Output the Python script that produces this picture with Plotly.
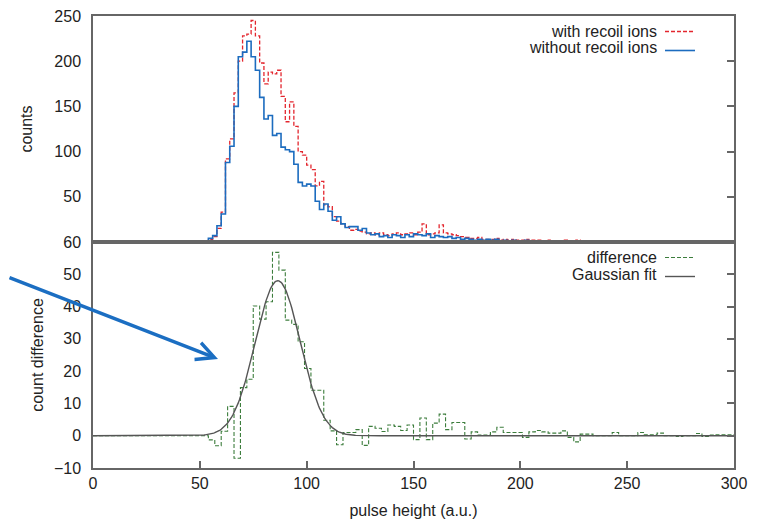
import numpy as np
import plotly.graph_objects as go
from plotly.subplots import make_subplots

# ---------------- data ----------------
# upper panel: histograms, 2-unit bins starting at 50 (zero below 50)
top_bin_start = 50
top_bin_width = 2
counts_with_recoil = [
    1, 1, 3, 6, 15, 33, 92, 114, 165, 200, 228, 230, 245, 228, 198, 175, 188, 186, 190, 161,
    133, 155, 128, 100, 96, 85, 80, 62, 67, 41, 39, 28, 23, 20, 17, 13, 14, 12, 11, 9,
    10, 8, 10, 8, 7, 9, 10, 8, 9, 10, 8, 11, 20, 8, 9, 10, 19, 10, 9, 8,
    7, 6, 5, 4, 4, 5, 3, 3, 3, 4, 2, 3, 2, 3, 2, 2, 3, 2, 2, 2,
    1, 2, 1, 1, 1, 2, 1, 1, 2, 0, 1, 0, 0, 1, 0, 0, 0, 0, 1, 0,
    0, 0, 0, 1, 0, 0, 1, 0, 0, 1, 0, 0, 0, 0, 0, 1, 0, 1, 0, 0,
    1, 0, 0, 0, 0,
]
counts_without_recoil = [
    1, 1, 4, 7, 18, 31, 88, 106, 150, 205, 210, 222, 205, 190, 160, 136, 140, 118, 120, 105,
    102, 100, 86, 66, 62, 64, 62, 45, 36, 42, 34, 24, 28, 20, 16, 17, 17, 13, 15, 10,
    8, 9, 6, 7, 5, 8, 7, 5, 8, 6, 9, 8, 7, 9, 5, 7, 6, 5, 6, 4,
    5, 3, 4, 3, 2, 3, 2, 3, 2, 3, 1, 2, 1, 2, 1, 1, 2, 1, 1, 0,
    1, 1, 0, 1, 0, 1, 0, 0, 1, 0, 0, 1, 0, 1, 0, 1, 0, 0, 0, 0,
    0, 1, 0, 0, 0, 0, 0, 0, 1, 0, 0, 0, 0, 0, 0, 0, 1, 0, 0, 0,
    0, 0, 1, 0, 0,
]

# lower panel: count difference, 3-unit bins starting at 54 (zero below 54)
diff_bin_start = 54
diff_bin_width = 3
count_difference = [
    -1.3, -3.1, 1.4, 9.1, -7.0, 14.9, 17.5, 40.2, 36.1, 41.5, 56.8, 51.3, 35.8, 34.5, 29.1,
    20.8, 14.1, 14.1, 4.8, 1.5, -2.8, 1.0, 1.0, 1.9, -3.0, 2.9, 2.3, 1.3, 3.3, 2.9,
    1.6, 3.3, -1.2, 5.5, -1.2, 3.9, 6.7, 1.9, 4.1, 4.1, -1.0, 1.2, 0.2, 0.2, 1.2,
    2.6, 1.0, 1.0, 1.0, -0.5, 1.2, 1.6, 1.2, 0.8, 0.8, 1.5, -0.5, -1.9, 0.5, 0.5,
    0.0, 0.0, 0.0, 1.0, 0.0, 0.0, 0.0, 1.0, 0.3, 0.3, 0.8, 0.0, 0.0, -0.2, 0.0,
    0.0, 0.7, -0.2, 0.2, 0.3, 0.3, 0.3,
]

# Gaussian fit parameters
fit_amplitude = 48.0
fit_mean = 86.5
fit_sigma = 10.5

x_min, x_max = 0, 300
x_ticks = [0, 50, 100, 150, 200, 250, 300]
top_ticks = [0, 50, 100, 150, 200, 250]
top_tick_text = ["", "50", "100", "150", "200", "250"]   # 0 coincides with the lower panel's 60
bottom_ticks = [-10, 0, 10, 20, 30, 40, 50, 60]


def step_xy(start, width, values):
    n_pad = int(round((start - x_min) / width))
    vals = [0.0] * n_pad + list(values)
    edges = x_min + width * np.arange(len(vals) + 1)
    return edges, vals + [vals[-1]]


xw, yw = step_xy(top_bin_start, top_bin_width, counts_with_recoil)
xo, yo = step_xy(top_bin_start, top_bin_width, counts_without_recoil)
xd, yd = step_xy(diff_bin_start, diff_bin_width, count_difference)
xf = np.linspace(x_min, x_max, 601)
yf = fit_amplitude * np.exp(-0.5 * ((xf - fit_mean) / fit_sigma) ** 2)

FONT = "Liberation Sans, Arial, sans-serif"
TXT = "#222222"
FRAME = "#666666"

# page body has an 8px margin: figure is placed at (8, 8)
OFF = 8
W, H = 761 - OFF, 521 - OFF
L, R, T, B = 93 - OFF, 27, 16 - OFF, 53
PW = W - L - R
PH = H - T - B


def px(xpix):
    return (xpix - OFF - L) / PW


def py(ypix):
    return 1 - (ypix - OFF - T) / PH


fig = make_subplots(rows=2, cols=1, shared_xaxes=True, vertical_spacing=0)

fig.add_trace(go.Scatter(x=xw, y=yw, mode="lines", line_shape="hv", name="with recoil ions",
                         line=dict(color="#e3262e", width=1.3, dash="4px,2px"),
                         legend="legend"), row=1, col=1)
fig.add_trace(go.Scatter(x=xo, y=yo, mode="lines", line_shape="hv", name="without recoil ions",
                         line=dict(color="#1c6cbf", width=1.6),
                         legend="legend"), row=1, col=1)
fig.add_trace(go.Scatter(x=xd, y=yd, mode="lines", line_shape="hv", name="difference",
                         line=dict(color="#3c7d3c", width=1.1, dash="4px,2px"),
                         legend="legend2"), row=2, col=1)
fig.add_trace(go.Scatter(x=xf, y=yf, mode="lines", name="Gaussian fit",
                         line=dict(color="#555555", width=1.4),
                         legend="legend2"), row=2, col=1)

axis_common = dict(showgrid=False, zeroline=False, showline=True, linecolor=FRAME,
                   linewidth=1.5, mirror=True, automargin=False, ticklabeloverflow="allow")

fig.update_layout(
    width=W, height=H,
    margin=dict(l=L, r=R, t=T, b=B, autoexpand=False),
    paper_bgcolor="white", plot_bgcolor="white",
    font=dict(family=FONT, size=16, color=TXT),
    xaxis=dict(**axis_common, range=[x_min, x_max], ticks="", showticklabels=False,
               domain=[0, 1]),
    xaxis2=dict(**axis_common, range=[x_min, x_max], tickvals=x_ticks, ticks="inside",
                ticklen=7, tickwidth=1.5, tickcolor=FRAME, domain=[0, 1],
                title=dict(text="pulse height (a.u.)", standoff=14,
                           font=dict(size=16, color=TXT)),
                tickfont=dict(size=16, color=TXT), ticklabelstandoff=0),
    yaxis=dict(**axis_common, range=[0, 250], tickvals=top_ticks, ticktext=top_tick_text,
               ticks="", domain=[0.5, 1], tickfont=dict(size=16, color=TXT),
               ticklabelstandoff=7,
               title=dict(text="counts", standoff=18, font=dict(size=16, color=TXT))),
    yaxis2=dict(**axis_common, range=[-10, 60], tickvals=bottom_ticks, ticks="",
                domain=[0, 0.5], tickfont=dict(size=16, color=TXT), ticklabelstandoff=7,
                title=dict(text="count difference", standoff=6,
                           font=dict(size=16, color=TXT))),
    yaxis3=dict(overlaying="y", anchor="x", side="right", range=[0, 250], tickvals=top_ticks,
                ticks="inside", ticklen=7, tickwidth=1.5, tickcolor=FRAME,
                showticklabels=False, showgrid=False, zeroline=False, showline=False,
                automargin=False),
    yaxis4=dict(overlaying="y2", anchor="x2", side="right", range=[-10, 60],
                tickvals=bottom_ticks, ticks="inside", ticklen=7, tickwidth=1.5,
                tickcolor=FRAME, showticklabels=False, showgrid=False, zeroline=False,
                showline=False, automargin=False),
    legend=dict(x=px(668) - 8 / PW, xanchor="left", y=py(17), yanchor="top",
                bgcolor="rgba(0,0,0,0)", borderwidth=0,
                font=dict(size=1, color="rgba(0,0,0,0)"), itemwidth=30),
    legend2=dict(x=px(668) - 8 / PW, xanchor="left", y=py(243), yanchor="top",
                 bgcolor="rgba(0,0,0,0)", borderwidth=0,
                 font=dict(size=1, color="rgba(0,0,0,0)"), itemwidth=30),
    showlegend=True,
)

# key labels (gnuplot style: text right-aligned, sample to its right)
key_labels = [("with recoil ions", 31), ("without recoil ions", 47),
              ("difference", 257), ("Gaussian fit", 274)]
for txt, ypix in key_labels:
    fig.add_annotation(text=txt, xref="paper", yref="paper",
                       x=px(659), y=py(ypix),
                       xanchor="right", yanchor="middle", showarrow=False,
                       font=dict(size=16, color=TXT, family=FONT))

# blue pointer arrow
fig.add_annotation(xref="paper", yref="paper", x=px(218), y=py(359),
                   ax=-218, ay=-82, axref="pixel", ayref="pixel", text="",
                   showarrow=True, arrowhead=5, arrowsize=1.0, arrowwidth=3.5,
                   arrowcolor="#1b6ec2")

# dummy traces so overlay axes are drawn
fig.add_trace(go.Scatter(x=[None], y=[None], xaxis="x", yaxis="y3", showlegend=False,
                         hoverinfo="skip"))
fig.add_trace(go.Scatter(x=[None], y=[None], xaxis="x2", yaxis="y4", showlegend=False,
                         hoverinfo="skip"))

fig.write_html("out.html")
